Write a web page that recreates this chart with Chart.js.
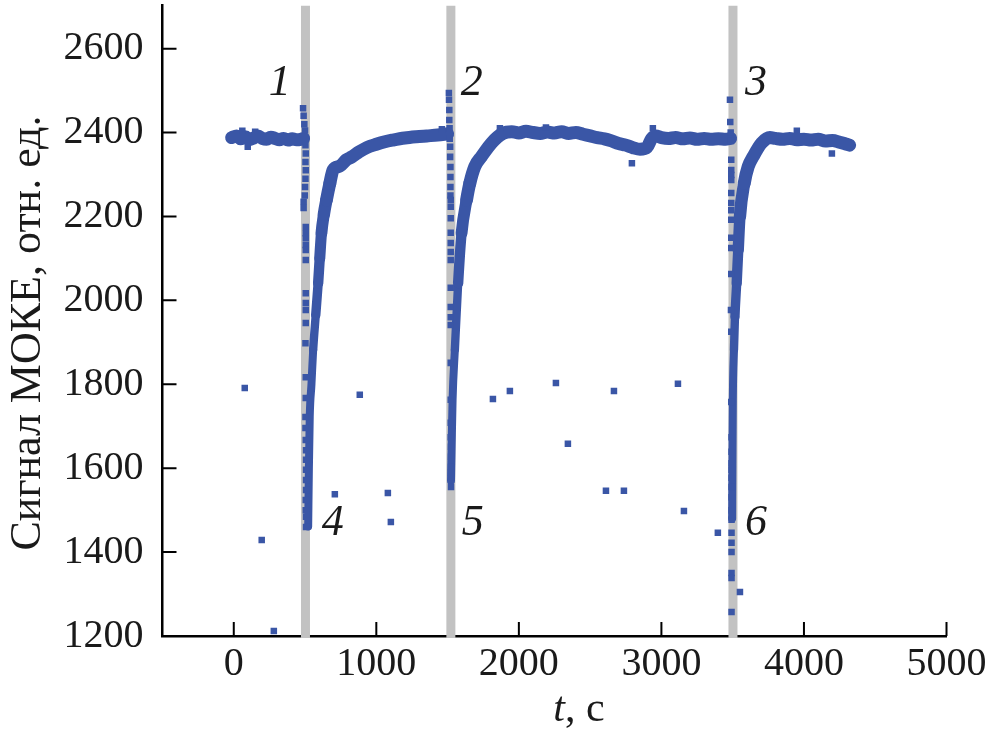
<!DOCTYPE html>
<html>
<head>
<meta charset="utf-8">
<script src="https://cdn.jsdelivr.net/npm/chart.js@4.4.1/dist/chart.umd.min.js"></script>
<style>
  html, body { margin: 0; padding: 0; background: #fff; }
  #wrap { width: 988px; height: 736px; }
</style>
</head>
<body>
<div id="wrap"><canvas id="mokeChart" width="988" height="736"></canvas></div>
<script>
// continuous parts of the signal [t, value]
const baseline1 = [[-15, 2388], [20, 2392], [50, 2385], [80, 2390], [110, 2383], [140, 2387], [170, 2392],
  [200, 2386], [230, 2384], [260, 2389], [290, 2386], [320, 2383], [350, 2386], [380, 2382], [410, 2385],
  [440, 2383], [470, 2384], [490, 2386]];
const recovery1 = [[522, 1461], [527, 1600], [533, 1723], [545, 1800], [557, 1882], [575, 1965], [592, 2041],
  [603, 2100], [615, 2160], [632, 2205], [650, 2239], [674, 2279], [697, 2311], [744, 2320], [790, 2335],
  [828, 2342], [880, 2354], [933, 2364], [1000, 2372], [1060, 2378], [1116, 2382], [1200, 2387], [1280, 2390],
  [1354, 2392], [1430, 2394], [1500, 2397]];
const recovery2 = [[1524, 1570], [1528, 1643], [1535, 1763], [1551, 1882], [1574, 2041], [1598, 2160],
  [1633, 2239], [1656, 2279], [1691, 2319], [1738, 2343], [1808, 2375], [1888, 2398], [1950, 2402],
  [2000, 2399], [2050, 2403], [2100, 2400], [2150, 2398], [2200, 2401], [2250, 2399], [2300, 2402],
  [2350, 2398], [2400, 2400], [2450, 2396], [2500, 2392], [2550, 2388], [2600, 2385], [2650, 2380],
  [2700, 2374], [2750, 2370], [2800, 2364], [2850, 2360], [2900, 2365], [2930, 2385], [2960, 2392],
  [3000, 2388], [3050, 2386], [3100, 2388], [3150, 2385], [3200, 2387], [3250, 2384], [3300, 2386],
  [3350, 2384], [3400, 2385], [3450, 2384], [3485, 2386]];
const recovery3 = [[3496, 1480], [3498, 1604], [3501, 1763], [3509, 1882], [3516, 1961], [3528, 2041], [3539, 2120],
  [3551, 2200], [3581, 2279], [3609, 2319], [3644, 2343], [3703, 2375], [3761, 2388], [3800, 2386],
  [3850, 2384], [3900, 2386], [3950, 2383], [4000, 2384], [4050, 2382], [4100, 2384], [4150, 2380],
  [4200, 2381], [4250, 2377], [4300, 2372], [4320, 2370]];

// single points inside the grey bars and scattered ones
const drop1 = [[486, 2458], [490, 2440], [495, 2420], [500, 2405], [503, 2370], [505, 2350], [503, 2330],
  [505, 2310], [503, 2290], [500, 2270], [498, 2250], [490, 2235], [490, 2220], [505, 2175], [505, 2160],
  [505, 2148], [505, 2132], [505, 2120], [505, 2096], [505, 2017], [505, 1994], [505, 1977], [505, 1946],
  [503, 1898], [505, 1817], [505, 1767], [503, 1722], [503, 1696], [505, 1667], [507, 1643], [507, 1620],
  [507, 1596], [507, 1572], [507, 1548], [505, 1524], [505, 1500], [507, 1484], [507, 1460]];
const drop2 = [[1509, 2494], [1510, 2478], [1512, 2454], [1512, 2430], [1514, 2410], [1515, 2385],
  [1518, 2366], [1518, 2342], [1520, 2318], [1520, 2294], [1520, 2270], [1520, 2250], [1522, 2239],
  [1522, 2223], [1522, 2196], [1522, 2161], [1522, 2137], [1522, 2115], [1522, 2096], [1522, 2030],
  [1522, 1984], [1522, 1960], [1522, 1941], [1522, 1851], [1522, 1763], [1522, 1708], [1522, 1674],
  [1524, 1651], [1524, 1627], [1524, 1603], [1524, 1589], [1524, 1555]];
const drop3 = [[3481, 2478], [3483, 2425], [3486, 2400], [3488, 2380], [3490, 2335], [3490, 2311],
  [3490, 2299], [3490, 2287], [3490, 2256], [3490, 2232], [3490, 2215], [3490, 2192], [3490, 2149],
  [3490, 2125], [3490, 2063], [3488, 1977], [3490, 1925], [3490, 1758], [3492, 1674], [3492, 1639],
  [3492, 1612], [3492, 1596], [3492, 1577], [3492, 1555], [3492, 1531], [3492, 1500], [3492, 1477],
  [3492, 1446], [3492, 1422], [3492, 1400], [3492, 1350], [3492, 1338], [3492, 1257]];
const outliers = [[77, 1791], [196, 1429], [281, 1212], [709, 1538], [884, 1775], [1081, 1541],
  [1102, 1472], [1818, 1765], [1937, 1784], [2260, 1803], [2344, 1658], [2611, 1546], [2667, 1784],
  [2737, 1546], [3116, 1801], [3158, 1498], [3396, 1446], [3551, 1305]];
// noisy points sticking out of the band
const speckles = [[98, 2366], [60, 2404], [150, 2402], [1867, 2410], [2793, 2327], [2190, 2412],
  [2940, 2410], [4196, 2350], [3950, 2404], [700, 2296], [1460, 2408]];

// grey bars (t) and curve numbers
const bars = [503, 1523, 3502];
const marks = [['1', 323, 2518], ['2', 1670, 2518], ['3', 3663, 2518],
  ['4', 695, 1469], ['5', 1677, 1469], ['6', 3663, 1469]];

const xTicks = [0, 1000, 2000, 3000, 4000, 5000];
const yTicks = [1200, 1400, 1600, 1800, 2000, 2200, 2400, 2600];

const blue = '#3a56a6';
const toXY = arr => arr.map(p => ({ x: p[0], y: p[1] }));

Chart.defaults.font.family = "'Liberation Serif', 'DejaVu Serif', serif";
Chart.defaults.color = '#1a1a1a';

// thinner where the curve is steep, thicker on the noisy plateau
const widthFor = c => {
  const lo = Math.min(c.p0.parsed.y, c.p1.parsed.y);
  const k = Math.max(0, Math.min(1, (lo - 1850) / 400));
  return 8 + 5 * k;
};

const curve = arr => ({
  data: toXY(arr), showLine: true, pointRadius: 0, borderColor: blue, borderWidth: 13,
  cubicInterpolationMode: 'monotone', borderJoinStyle: 'round', borderCapStyle: 'round',
  segment: { borderWidth: widthFor }
});
const dots = arr => ({
  data: toXY(arr), showLine: false, pointStyle: 'rect', pointRadius: 4.6,
  backgroundColor: blue, borderColor: blue, borderWidth: 0
});
const bar = t => ({
  data: [{ x: t, y: 1195 }, { x: t, y: 2702 }], showLine: true, pointRadius: 0,
  borderColor: '#c2c2c2', borderWidth: 9, borderCapStyle: 'butt', clip: false
});

const decor = {
  id: 'decor',
  afterDraw(chart) {
    const ctx = chart.ctx;
    const xs = chart.scales.x, ys = chart.scales.y;
    const area = chart.chartArea;
    ctx.save();
    // inward tick marks
    ctx.strokeStyle = '#000';
    ctx.lineWidth = 2;
    ctx.beginPath();
    xTicks.forEach(v => {
      const px = xs.getPixelForValue(v);
      ctx.moveTo(px, area.bottom); ctx.lineTo(px, area.bottom - 14);
    });
    yTicks.forEach(v => {
      const py = ys.getPixelForValue(v);
      ctx.moveTo(area.left, py); ctx.lineTo(area.left + 14, py);
    });
    ctx.stroke();

    // curve numbers
    ctx.fillStyle = '#1a1a1a';
    ctx.font = "italic 44px 'Liberation Serif'";
    ctx.textAlign = 'center';
    ctx.textBaseline = 'middle';
    marks.forEach(m => ctx.fillText(m[0], xs.getPixelForValue(m[1]), ys.getPixelForValue(m[2])));

    // x title: t, с
    ctx.textAlign = 'left';
    ctx.textBaseline = 'alphabetic';
    ctx.font = "italic 42px 'Liberation Serif'";
    const tw = ctx.measureText('t').width;
    ctx.font = "42px 'Liberation Serif'";
    const rw = ctx.measureText(', с').width;
    const x0 = 579 - (tw + rw) / 2;
    ctx.font = "italic 42px 'Liberation Serif'";
    ctx.fillText('t', x0, 721);
    ctx.font = "42px 'Liberation Serif'";
    ctx.fillText(', с', x0 + tw, 721);

    // y title
    ctx.translate(40, 333);
    ctx.rotate(-Math.PI / 2);
    ctx.textAlign = 'center';
    ctx.font = "44px 'Liberation Serif'";
    ctx.fillText('Сигнал МОКЕ, отн. ед.', 0, 0);
    ctx.restore();
  }
};

new Chart(document.getElementById('mokeChart'), {
  type: 'scatter',
  data: {
    datasets: [
      dots(drop1), dots(drop2), dots(drop3), dots(outliers), dots(speckles),
      curve(baseline1), curve(recovery1), curve(recovery2), curve(recovery3),
      ...bars.map(bar)
    ]
  },
  options: {
    responsive: false,
    animation: false,
    layout: { padding: { left: 0, right: 41.5, top: 5, bottom: 0 } },
    plugins: { legend: { display: false }, tooltip: { enabled: false } },
    scales: {
      x: {
        type: 'linear', min: -500, max: 5000,
        afterFit: s => { s.height = 100; s.paddingLeft = 0; s.paddingRight = 0; },
        afterBuildTicks: s => { s.ticks = xTicks.map(v => ({ value: v })); },
        grid: { drawOnChartArea: false, drawTicks: false },
        border: { display: true, color: '#000', width: 2.5 },
        ticks: { font: { size: 40 }, padding: 4, maxRotation: 0, autoSkip: false, callback: v => String(v) }
      },
      y: {
        type: 'linear', min: 1200, max: 2704,
        afterFit: s => { s.width = 162.5; s.paddingTop = 0; s.paddingBottom = 0; },
        afterBuildTicks: s => { s.ticks = yTicks.map(v => ({ value: v })); },
        grid: { drawOnChartArea: false, drawTicks: false },
        border: { display: true, color: '#000', width: 2.5 },
        ticks: { font: { size: 40 }, padding: 19, callback: v => String(v) }
      }
    }
  },
  plugins: [decor]
});
</script>
</body>
</html>
